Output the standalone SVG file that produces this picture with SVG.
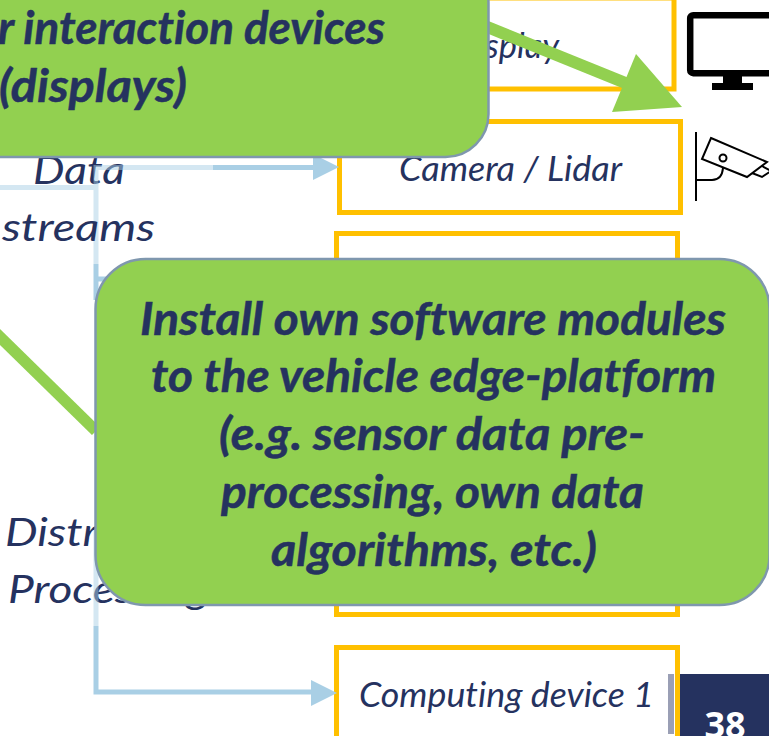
<svg xmlns="http://www.w3.org/2000/svg" width="769" height="736" viewBox="0 0 769 736">
<defs><style>
.bx{fill:#fff;stroke:#ffc000;stroke-width:5}
.gr{fill:#92d050;stroke:#7f97ae;stroke-width:2.5}
.t{font-family:"Lato","Open Sans",sans-serif;font-style:italic;fill:#25325f;font-variant-ligatures:none}
.b{font-weight:700;font-size:46px;stroke:#25325f;stroke-width:.5}
.n{font-size:39px}
.s{font-size:34px}
.ln{fill:none;stroke:#a9cfe5;stroke-width:5}
.fd{fill:none;stroke:#a9cfe5;stroke-opacity:.5;stroke-width:5}
.ah{fill:#a9cfe5}
.ic{fill:none;stroke:#000;stroke-width:2}
</style></defs>
<rect width="769" height="736" fill="#fff"/>
<g id="node-display"><rect class="bx" x="339" y="-2" width="335" height="91"/><text class="t s" x="453" y="58" textLength="106" lengthAdjust="spacingAndGlyphs">Display</text></g>
<g id="node-camera"><rect class="bx" x="339.500" y="121.500" width="341" height="91"/><text class="t s" x="399" y="180.500" textLength="223" lengthAdjust="spacingAndGlyphs">Camera / Lidar</text></g>
<g id="node-middle"><rect class="bx" x="336.500" y="233.500" width="341" height="381"/></g>
<g id="node-computing"><rect class="bx" x="336.500" y="647.500" width="341" height="91"/><text class="t s" x="359" y="706.500" textLength="295" lengthAdjust="spacingAndGlyphs">Computing device 1</text></g>
<g id="label-data"><text class="t n" x="33" y="183.500" textLength="92" lengthAdjust="spacingAndGlyphs">Data</text></g>
<g id="label-distributed"><text class="t n" x="5" y="545.500" textLength="215" lengthAdjust="spacingAndGlyphs">Distributed</text><text class="t n" x="8" y="602.500" textLength="201" lengthAdjust="spacingAndGlyphs">Processing</text></g>
<g id="connectors">
<path class="fd" d="M0 187.500H96M96 165V264M96 167.500H213M96 530V626"/>
<path class="ln" d="M213 167.500H316M96 264V300M96 279H120M96 626V692H312"/>
<polygon class="ah" points="313,154 339,167 313,180"/>
<polygon class="ah" points="311,680 337,693 311,706"/>
</g>
<g id="label-streams"><text class="t n" x="2" y="240.500" textLength="153" lengthAdjust="spacingAndGlyphs">streams</text></g>
<g id="arrow-install"><path d="M-4 333L96 431" fill="none" stroke="#92d050" stroke-width="11.500"/></g>
<g id="arrow-interaction"><path d="M480 24L628 84" fill="none" stroke="#92d050" stroke-width="12"/><polygon points="636,54 682,107 612,112" fill="#92d050"/></g>
<g id="node-interaction"><rect class="gr" x="-60" y="-40" width="548.500" height="197" rx="43"/>
<text class="t b" x="-2" y="43.500" textLength="387" lengthAdjust="spacingAndGlyphs">r interaction devices</text><text class="t b" x="-1" y="101.500" textLength="188" lengthAdjust="spacingAndGlyphs">(displays)</text></g>
<g id="node-install"><rect class="gr" x="95.500" y="259" width="674" height="346" rx="50"/>
<text class="t b" x="140" y="334.500" textLength="586" lengthAdjust="spacingAndGlyphs">Install own software modules</text>
<text class="t b" x="151" y="391.500" textLength="565" lengthAdjust="spacingAndGlyphs">to the vehicle edge-platform</text>
<text class="t b" x="219" y="449.500" textLength="426" lengthAdjust="spacingAndGlyphs">(e.g. sensor data pre-</text>
<text class="t b" x="221" y="507.500" textLength="423" lengthAdjust="spacingAndGlyphs">processing, own data</text>
<text class="t b" x="271" y="565.500" textLength="326" lengthAdjust="spacingAndGlyphs">algorithms, etc.)</text></g>
<g id="icon-monitor"><rect x="690.200" y="15.200" width="85" height="58" rx="3" fill="none" stroke="#000" stroke-width="6.500"/><rect x="723" y="76" width="19" height="8" fill="#000"/><rect x="712" y="83" width="41" height="7" fill="#000"/></g>
<g id="icon-camera"><path class="ic" d="M696 132V201M696 180H712Q722 180 723 168"/><path class="ic" d="M711 138L767 162L747 177L702 159Z"/><path class="ic" d="M752 173L762 177L771 171L762 166"/><circle class="ic" cx="723" cy="158" r="3.500"/></g>
<g id="footer"><rect x="668" y="674" width="6" height="60" fill="#9a9fb5"/><rect x="680" y="674" width="89" height="62" fill="#25325f"/><text x="725" y="738" text-anchor="middle" font-family="Open Sans, sans-serif" font-weight="700" font-size="36" fill="#fff">38</text></g>
</svg>
